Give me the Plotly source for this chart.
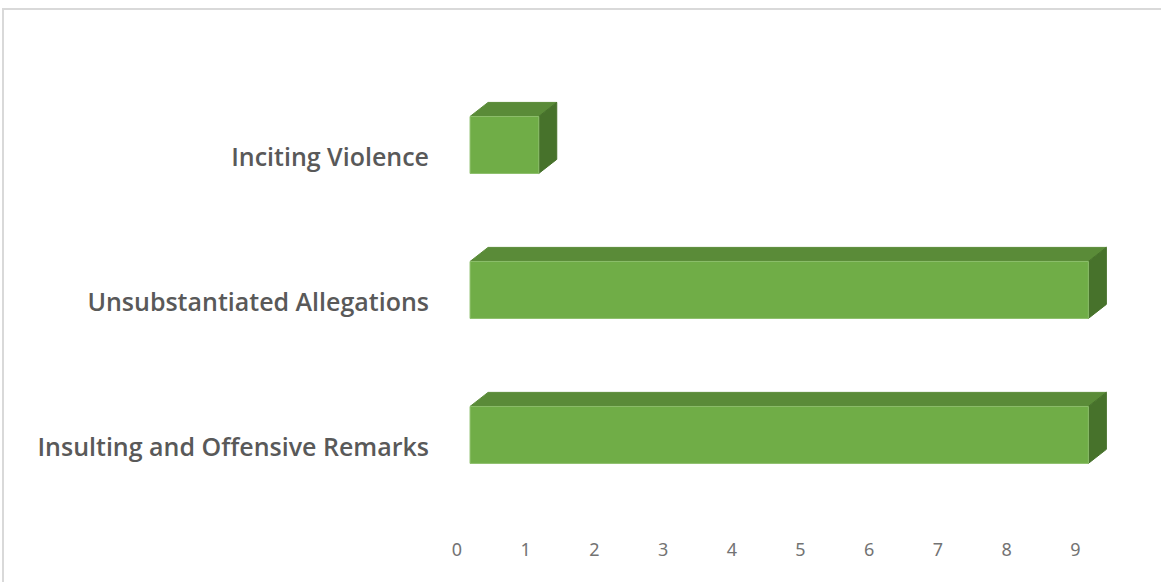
import plotly.graph_objects as go

# Complaint categories (bottom to top) and their counts
categories = ["Insulting and Offensive Remarks", "Unsubstantiated Allegations", "Inciting Violence"]
counts = [9, 9, 1]
x_ticks = [0, 1, 2, 3, 4, 5, 6, 7, 8, 9]

# Pseudo-3D bar geometry (axis units)
X_SHIFT = 0.19      # front face offset from the axis origin
Y_CENTER = 0.083    # front face centre relative to the category position
BAR_H = 0.393       # front face height
DEPTH_X = 0.262     # receding depth, horizontal
DEPTH_Y = 0.097     # receding depth, vertical

FRONT = "#70AD47"
TOP = "#5A8B38"
SIDE = "#47722B"
EDGE = "#8DBF6B"

fig = go.Figure()


def face(xs, ys, color, edge):
    fig.add_trace(go.Scatter(
        x=xs + [xs[0]], y=ys + [ys[0]], mode="lines", fill="toself",
        fillcolor=color, line=dict(color=edge, width=1),
        hoverinfo="skip", showlegend=False,
    ))


for i, v in enumerate(counts):
    x0 = X_SHIFT
    x1 = X_SHIFT + v
    yb = i + Y_CENTER - BAR_H / 2
    yt = i + Y_CENTER + BAR_H / 2
    # top face
    face([x0, x1, x1 + DEPTH_X, x0 + DEPTH_X], [yt, yt, yt + DEPTH_Y, yt + DEPTH_Y], TOP, TOP)
    # right side face
    face([x1, x1, x1 + DEPTH_X, x1 + DEPTH_X], [yb, yt, yt + DEPTH_Y, yb + DEPTH_Y], SIDE, SIDE)
    # front face
    face([x0, x1, x1, x0], [yb, yb, yt, yt], FRONT, EDGE)

fig.update_layout(
    width=1161, height=582,
    margin=dict(l=440, r=40, t=40, b=45),
    paper_bgcolor="white", plot_bgcolor="white",
    showlegend=False,
    xaxis=dict(
        range=[-0.2475, 9.665], tickvals=x_ticks, ticktext=[str(t) for t in x_ticks],
        showgrid=False, zeroline=False, showline=False, ticks="",
        tickfont=dict(family="Noto Sans", size=18, color="#737373"),
        fixedrange=True,
    ),
    yaxis=dict(
        range=[-0.621, 2.807], tickvals=[0, 1, 2], ticktext=categories,
        showgrid=False, zeroline=False, showline=False, ticks="",
        tickfont=dict(family="Open Sans", size=25, color="#595959", weight=600),
        ticklabelstandoff=10,
        fixedrange=True,
    ),
    shapes=[dict(
        type="rect", xref="paper", yref="paper",
        x0=(3 - 440) / 681, x1=(1175 - 440) / 681,
        y0=(45 - 600) / 497, y1=(582 - 9 - 45) / 497,
        line=dict(color="#D9D9D9", width=2), fillcolor="rgba(0,0,0,0)", layer="below",
    )],
)

fig.write_html("out.html")
